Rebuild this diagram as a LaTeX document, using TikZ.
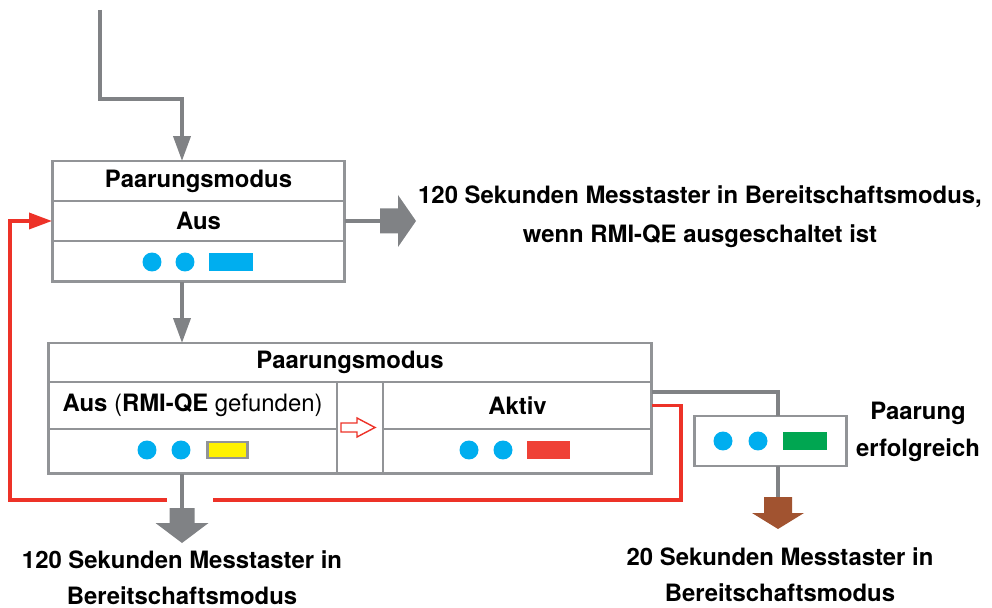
\documentclass[tikz,border=0pt]{standalone}
\usepackage{fontspec}
\setmainfont{TeX Gyre Heros}
\usepackage{tikz}
\usetikzlibrary{positioning}
\usetikzlibrary{arrows.meta}

\definecolor{linegray}{RGB}{128,130,133}
\definecolor{framegray}{RGB}{146,148,151}
\definecolor{ledblue}{RGB}{0,174,239}
\definecolor{ledyellow}{RGB}{255,242,0}
\definecolor{ledred}{RGB}{239,65,54}
\definecolor{ledgreen}{RGB}{0,166,81}
\definecolor{loopred}{RGB}{237,50,40}
\definecolor{outbrown}{RGB}{161,83,48}

\begin{document}
\begin{tikzpicture}[x=0.02cm, y=-0.02cm, inner sep=0pt, outer sep=0pt, font=\bfseries\fontsize{13.6}{21}\selectfont]
    \tikzstyle{cell}=[rectangle, draw=framegray, line width=1pt]
    \tikzstyle{frame}=[draw=framegray, line width=1.7pt]
    \tikzstyle{led}=[circle, fill=ledblue, minimum size=0.38cm]
    \tikzstyle{bar}=[rectangle, minimum width=0.88cm, minimum height=0.36cm]
    \tikzstyle{flow}=[draw=linegray, line width=2.2pt]
    \tikzstyle{flowarr}=[flow, -{Triangle[width=0.34cm,length=0.5cm]}]
    \tikzstyle{back}=[draw=loopred, line width=2pt]
    \tikzstyle{note}=[align=center]

    \useasboundingbox (0,0) rectangle (992,608);

    % oberer Kasten
    \node[cell, minimum width=5.86cm, minimum height=0.8cm] (A1) at (198.5,181) {Paarungsmodus};
    \node[cell, minimum width=5.86cm, minimum height=0.8cm, below=0pt of A1] (A2) {Aus};
    \node[cell, minimum width=5.86cm, minimum height=0.82cm, below=0pt of A2] (A3) {};
    \draw[frame] (A1.north west) rectangle (A3.south east);
    \node[led] (a1) at (152,262) {};
    \node[led] (a2) at (185,262) {};
    \node[bar, fill=ledblue] (a3) at (231,262) {};

    % unterer Kasten
    \node[cell, minimum width=12.08cm, minimum height=0.78cm] (B1) at (350,362.5) {Paarungsmodus};
    \node[cell, anchor=north west, minimum width=5.78cm, minimum height=0.94cm] (B2) at (B1.south west)
        {Aus {\mdseries(}RMI-QE {\mdseries gefunden)}};
    \node[cell, minimum width=5.78cm, minimum height=0.9cm, below=0pt of B2] (B3) {};
    \node[cell, anchor=north west, minimum width=0.92cm, minimum height=1.84cm] (M) at (B2.north east) {};
    \node[cell, anchor=north west, minimum width=5.38cm, minimum height=0.94cm] (B4) at (M.north east) {Aktiv};
    \node[cell, minimum width=5.38cm, minimum height=0.9cm, below=0pt of B4] (B5) {};
    \draw[frame] (B1.north west) rectangle (B5.south east);
    \node[led] (b1) at (147,450) {};
    \node[led] (b2) at (181,450) {};
    \node[bar, fill=ledyellow, draw=framegray, line width=1.2pt, minimum width=0.8cm, minimum height=0.32cm] (b3) at (227.5,450) {};
    \node[led] (b4) at (469,450) {};
    \node[led] (b5) at (503,450) {};
    \node[bar, fill=ledred] (b6) at (548.5,450) {};
    \coordinate (h) at (341,427.5);
    \draw[loopred, line width=0.8pt] (h) ++(0,-4.5) -- ++(16,0) -- ++(0,-5) -- ++(18,9.5)
        -- ++(-18,9.5) -- ++(0,-5) -- ++(-16,0) -- cycle;

    % Kasten rechts
    \node[rectangle, frame, minimum width=3.06cm, minimum height=1cm] (C) at (770.5,441) {};
    \node[led] (c1) at (723,441) {};
    \node[led] (c2) at (758,441) {};
    \node[bar, fill=ledgreen] (c3) at (805,441) {};

    % Verbindungen
    \coordinate (in) at (100,10);
    \coordinate (bend) at (182,99);
    \draw[flowarr] (in) |- (bend) -- (bend |- A1.north);
    \draw[flowarr] (bend |- A3.south) -- (bend |- B1.north);

    \coordinate (ra) at (380,221);
    \draw[flow] (A2.east) -- (ra);
    \fill[linegray] (ra) ++(0,-12.5) -- ++(18,0) -- ++(0,-13.5) -- ++(18,26) -- ++(-18,26)
        -- ++(0,-13.5) -- ++(-18,0) -- cycle;

    \coordinate (r1) at (681,500);
    \coordinate (r2) at (10,500);
    \coordinate (g1) at (213,500);
    \coordinate (g2) at (167,500);
    \draw[back] (B4.east) -| (r1) -- (g1);
    \draw[back, -{Triangle[width=0.32cm,length=0.46cm]}] (g2) -- (r2) |- (A2.west);

    \coordinate (dl) at (182,508);
    \draw[flow] (bend |- B3.south) -- (dl);
    \fill[linegray] (dl) ++(-12.5,0) -- ++(25,0) -- ++(0,15) -- ++(14,0) -- ++(-26.5,20)
        -- ++(-26.5,-20) -- ++(14,0) -- cycle;

    \coordinate (pair) at (778,392);
    \coordinate (br) at (778,497);
    \draw[flow] (pair -| B4.east) -- (pair) -- (pair |- C.north);
    \draw[flow] (pair |- C.south) -- (br);
    \fill[outbrown] (br) ++(-14,0) -- ++(28,0) -- ++(0,16) -- ++(12,0) -- ++(-26,16)
        -- ++(-26,-16) -- ++(12,0) -- cycle;

    % Texte
    \node[note, font=\bfseries\fontsize{13.6}{22}\selectfont] (t1) at (700,217)
        {120 Sekunden Messtaster in Bereitschaftsmodus,\\wenn RMI-QE ausgeschaltet ist};
    \node[note] (t2) at (918,432) {Paarung\\erfolgreich};
    \node[note, font=\bfseries\fontsize{13.6}{20.5}\selectfont] (t3) at (182,578)
        {120 Sekunden Messtaster in\\Bereitschaftsmodus};
    \node[note, font=\bfseries\fontsize{13.6}{20.5}\selectfont] (t4) at (780,575)
        {20 Sekunden Messtaster in\\Bereitschaftsmodus};
\end{tikzpicture}
\end{document}
